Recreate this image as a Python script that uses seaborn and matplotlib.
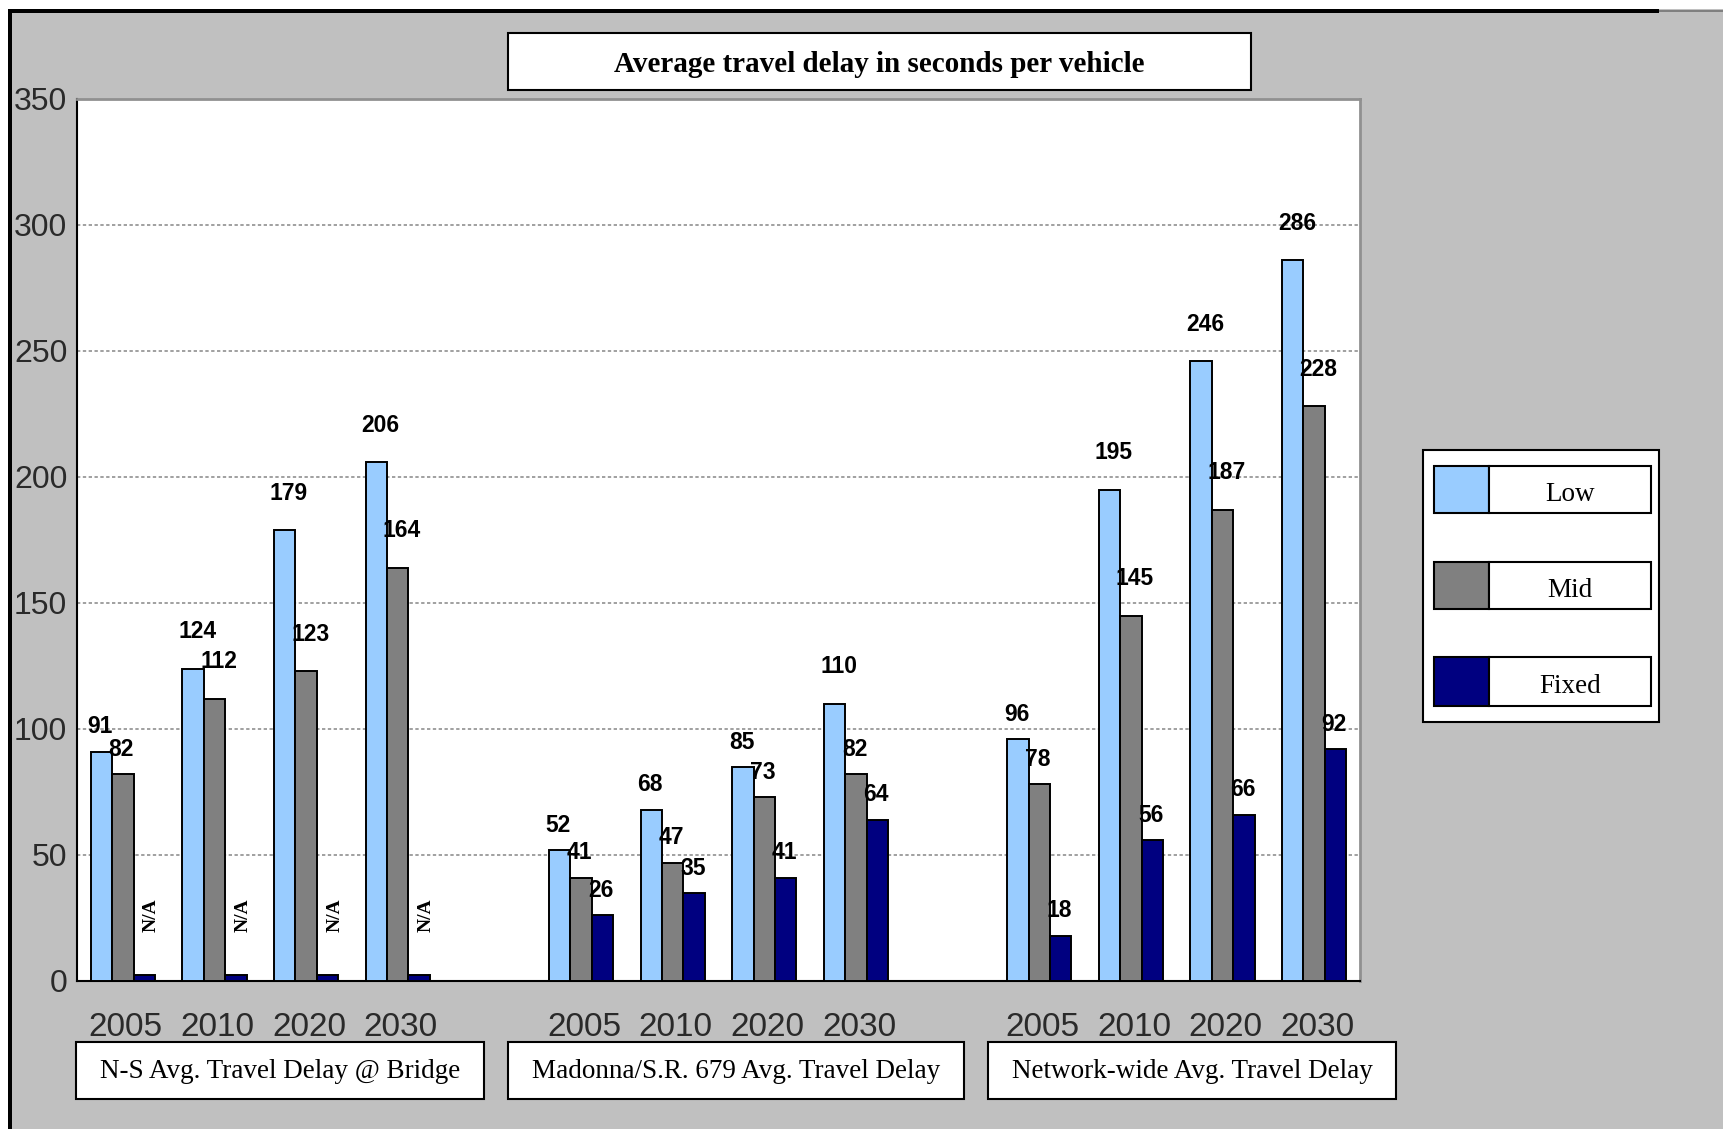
import numpy as np
import pandas as pd
import seaborn as sns
import matplotlib.pyplot as plt
import matplotlib.transforms as mtrans
from matplotlib.patches import Rectangle

# chart data
years = ['2005', '2010', '2020', '2030']
groups = ['N-S Avg. Travel Delay @ Bridge',
          'Madonna/S.R. 679 Avg. Travel Delay',
          'Network-wide Avg. Travel Delay']
scenarios = ['Low', 'Mid', 'Fixed']
colors = ['#99CCFF', '#808080', '#000080']

low = [91, 124, 179, 206, 52, 68, 85, 110, 96, 195, 246, 286]
mid = [82, 112, 123, 164, 41, 47, 73, 82, 78, 145, 187, 228]
# N-S fixed values are not available, drawn as a small stub bar
fixed = [2.5, 2.5, 2.5, 2.5, 26, 35, 41, 64, 18, 56, 66, 92]
fixed_na = [True, True, True, True] + [False] * 8

title = 'Average travel delay in seconds per vehicle'

# slot order with an empty slot between groups
order = []
slot_year = []
for g in range(len(groups)):
    for y in years:
        order.append(f'{g}-{y}')
        slot_year.append(y)
    if g < len(groups) - 1:
        order.append(f'gap{g}')
        slot_year.append('')
data_slots = [s for s in order if not s.startswith('gap')]

rows = []
for name, vals in zip(scenarios, [low, mid, fixed]):
    for slot, v in zip(data_slots, vals):
        rows.append({'slot': slot, 'scenario': name, 'value': v})
df = pd.DataFrame(rows)

sns.set_style('white')
fig = plt.figure(figsize=(17.23, 11.29), dpi=100, facecolor='white')
W, H = 1723, 1129


def fig_rect(x0, y0, x1, y1, **kw):
    # pixel box (top-left origin) -> figure fraction
    r = Rectangle((x0 / W, 1 - y1 / H), (x1 - x0) / W, (y1 - y0) / H,
                  transform=fig.transFigure, **kw)
    fig.patches.append(r)
    return r


# silver background with black top/left frame
fig_rect(8, 9, W + 5, H + 5, facecolor='#C0C0C0', edgecolor='none', zorder=0)
fig_rect(8, 9, 12, H + 5, facecolor='black', edgecolor='none', zorder=1)
fig_rect(8, 9, 1659, 13, facecolor='black', edgecolor='none', zorder=1)
fig_rect(1659, 10, W + 5, 12, facecolor='#808080', edgecolor='none', zorder=1)

ax = fig.add_axes([77 / W, 1 - 981 / H, (1360 - 77) / W, (981 - 99) / H])
ax.set_zorder(1.5)
ax.set_facecolor('white')

sns.barplot(data=df, x='slot', y='value', hue='scenario', order=order,
            hue_order=scenarios, palette=colors, width=0.7, saturation=1,
            edgecolor='black', linewidth=1.4, legend=False, ax=ax, zorder=3)

ax.set_xlim(-0.5, len(order) - 0.5)
ax.set_ylim(0, 350)
ax.set_yticks(np.arange(0, 351, 50))
ax.set_xlabel('')
ax.set_ylabel('')

# value labels
label_font = dict(family='Liberation Sans', weight='bold', size=16.5, color='black')
for cont, vals, name in zip(ax.containers, [low, mid, fixed], scenarios):
    bars = sorted(cont.patches, key=lambda b: b.get_x())
    for i, (bar, v) in enumerate(zip(bars, vals)):
        cx = bar.get_x() + bar.get_width() / 2
        if name == 'Fixed' and fixed_na[i]:
            ax.text(cx + 0.08, 26, 'N/A', rotation=90, ha='center', va='center',
                    family='Liberation Serif', weight='bold', size=14,
                    color='black', zorder=5)
            continue
        txt = str(int(v))
        off = 0.4 + 8.7 * len(txt)
        dx = 3 if len(txt) > 2 else -1
        ax.annotate(txt, (cx, v), xytext=(dx, off), textcoords='offset points',
                    ha='center', va='center', zorder=5, **label_font)

# axes styling
ax.yaxis.grid(True, linestyle=(0, (2, 1.5)), color='#909090', linewidth=1.2, zorder=0)
for side in ['left', 'bottom']:
    ax.spines[side].set_color('black')
    ax.spines[side].set_linewidth(1.5)
for side in ['top', 'right']:
    ax.spines[side].set_color('#909090')
    ax.spines[side].set_linewidth(2)

ax.set_xticks(np.arange(-0.5, len(order), 1))
ax.set_xticklabels([])
ax.set_xticks(np.arange(len(order)), minor=True)
ax.set_xticklabels(slot_year, minor=True)
ax.tick_params(axis='x', which='major', direction='out', length=6, width=1.5, color='black')
ax.tick_params(axis='x', which='minor', length=0, pad=22, labelsize=24, labelcolor='#2a2a2a')
ax.tick_params(axis='y', direction='out', length=5, width=1.5, color='black',
               labelsize=23, labelcolor='#2a2a2a', pad=2)
shift = mtrans.ScaledTranslation(3 / 100, 0, fig.dpi_scale_trans)
for t in ax.get_xticklabels(minor=True):
    t.set_family('Liberation Sans')
    t.set_transform(t.get_transform() + shift)
for t in ax.get_yticklabels():
    t.set_family('Liberation Sans')

# title box
fig_rect(508, 33, 1251, 90, facecolor='white', edgecolor='black', linewidth=1.5, zorder=2)
fig.text((508 + 1251) / 2 / W, 1 - 64 / H, title, ha='center', va='center',
         family='Liberation Serif', weight='bold', size=21, color='black', zorder=3)

# group label boxes
group_boxes = [(76, 484), (508, 964), (988, 1396)]
for (x0, x1), g in zip(group_boxes, groups):
    fig_rect(x0, 1042, x1, 1099, facecolor='white', edgecolor='black', linewidth=1.5, zorder=2)
    fig.text((x0 + x1) / 2 / W, 1 - 1071 / H, g, ha='center', va='center',
             family='Liberation Serif', size=19.5, color='black', zorder=3)

# legend
fig_rect(1423, 450, 1659, 722, facecolor='white', edgecolor='black', linewidth=1.5, zorder=2)
entry_y = [(466, 513), (562, 609), (657, 706)]
for (y0, y1), name, c in zip(entry_y, scenarios, colors):
    fig_rect(1434, y0, 1489, y1, facecolor=c, edgecolor='black', linewidth=1.5, zorder=3)
    fig_rect(1489, y0, 1651, y1, facecolor='white', edgecolor='black', linewidth=1.5, zorder=3)
    fig.text((1489 + 1651) / 2 / W, 1 - ((y0 + y1) / 2 + 5) / H, name, ha='center', va='center',
             family='Liberation Serif', size=19.5, color='black', zorder=4)

fig.savefig('out.png', dpi=100, facecolor=fig.get_facecolor())
